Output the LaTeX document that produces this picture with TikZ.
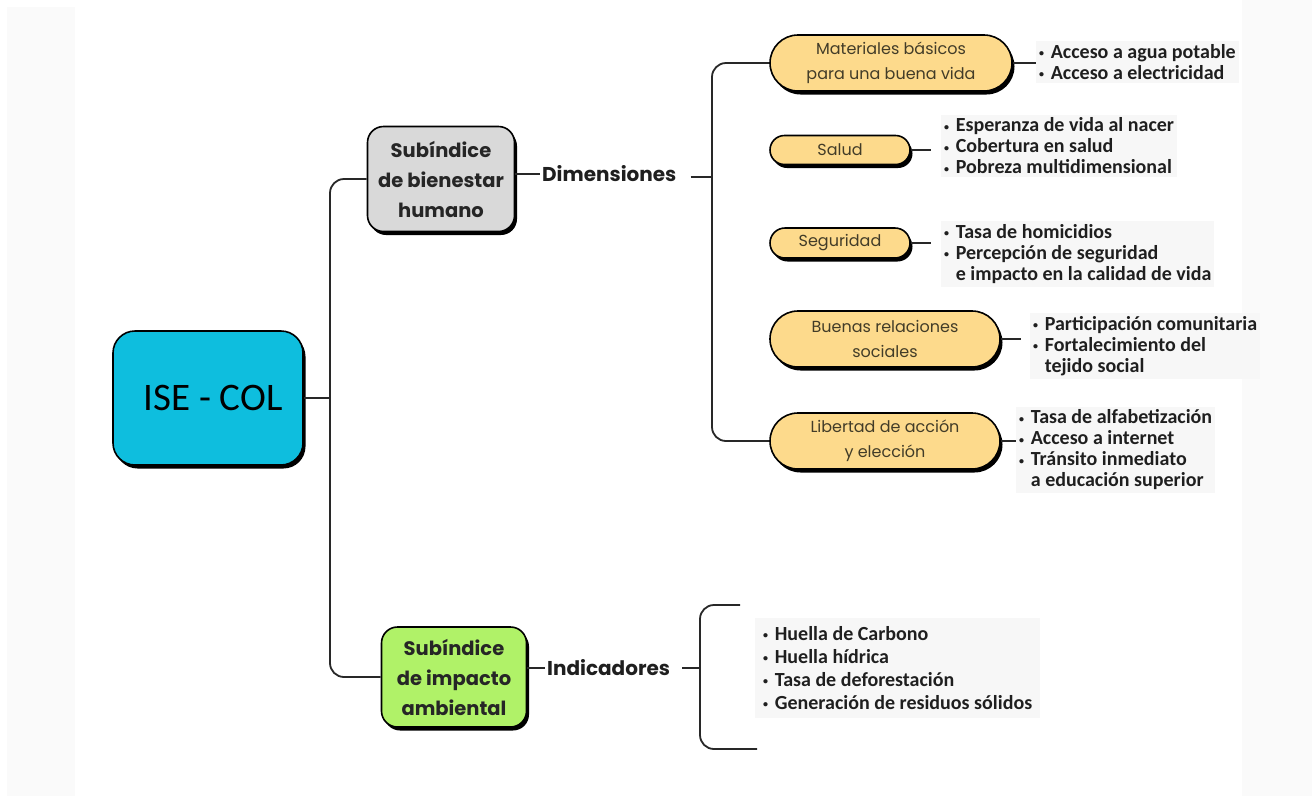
\documentclass[tikz,border=0pt]{standalone}
\usepackage{fontspec}
\setmainfont{Carlito}
\newfontfamily\popfont{Poppins}
\usetikzlibrary{shapes.misc,shadows}
\definecolor{cyanbox}{RGB}{14,190,222}
\definecolor{graybox}{RGB}{217,217,217}
\definecolor{orangebox}{RGB}{253,218,140}
\definecolor{greenbox}{RGB}{176,242,104}
\definecolor{linecol}{RGB}{40,40,40}
\definecolor{boxtext}{RGB}{66,60,40}
\definecolor{faint}{RGB}{247,247,247}
\definecolor{stripcol}{RGB}{250,250,250}
\newcommand{\bul}{\raisebox{0.2ex}{\scalebox{0.5}{•}}\,\,}
\tikzset{
  shadowed/.style={draw=black, line width=1.6pt, drop shadow={shadow xshift=2.5pt, shadow yshift=-3.5pt, fill=black, opacity=1}},
  mainbox/.style={shadowed, fill=cyanbox, rounded corners=22pt, minimum width=190pt, minimum height=134pt, inner sep=0pt, font=\fontsize{39}{44}\selectfont},
  subbox/.style={shadowed, rounded corners=16pt, inner sep=0pt, align=center, font=\popfont\bfseries\fontsize{19.5}{30}\selectfont, text=black!85},
  dimbox/.style={shadowed, fill=orangebox, rounded rectangle, inner sep=0pt, align=center, text=boxtext, font=\popfont\fontsize{16}{25}\selectfont},
  blist/.style={fill=faint, align=left, anchor=west, inner sep=3pt, text=black!88, font=\bfseries\fontsize{20}{21}\selectfont},
  heading/.style={inner sep=2pt, font=\popfont\bfseries\fontsize{20}{22}\selectfont, text=black!88},
  conn/.style={draw=linecol, line width=1.8pt, rounded corners=14pt}
}
\begin{document}
\begin{tikzpicture}[x=1pt,y=-1pt]
\useasboundingbox (0,0) rectangle (1312,796);
\fill[stripcol] (7,7) rectangle (75,796);
\fill[stripcol] (1242,0) rectangle (1312,796);

% main node
\node[mainbox] (ise) at (208,398) {\hspace*{10pt}ISE - COL};

% sub-indices
\node[subbox, fill=graybox, minimum width=147pt, minimum height=105pt] (bien) at (441,179) {Subíndice\\de bienestar\\humano};
\node[subbox, fill=greenbox, minimum width=145pt, minimum height=100pt] (amb) at (454,677) {Subíndice\\de impacto\\ambiental};

\coordinate (trunk) at (330,398);
\draw[conn] (ise.east) -- (trunk);
\draw[conn] (bien.west) -| (trunk) |- (amb.west);

% headings
\node[heading, anchor=west] (dim) at (540,174) {Dimensiones};
\node[heading, anchor=west] (ind) at (545,668) {Indicadores};
\draw[conn] (bien.east |- dim.west) -- (dim.west);
\draw[conn] (amb.east |- ind.west) -- (ind.west);

% dimension boxes
\node[dimbox, minimum width=242pt, minimum height=56pt] (mat) at (891,63) {Materiales básicos\\para una buena vida};
\node[dimbox, minimum width=140pt, minimum height=29pt] (sal) at (840,150) {Salud};
\node[dimbox, minimum width=140pt, minimum height=30pt] (seg) at (840,243) {Seguridad};
\node[dimbox, minimum width=230pt, minimum height=56pt] (bue) at (885,339) {Buenas relaciones\\sociales};
\node[dimbox, minimum width=230pt, minimum height=56pt] (lib) at (885,441) {Libertad de acción\\y elección};

\coordinate (dtrunk) at (712,177);
\draw[conn] ([xshift=12pt]dim.east |- dtrunk) -- (dtrunk);
\draw[conn] (mat.west) -| (dtrunk) |- (lib.west);

% bullet lists
\node[blist] (matl) at (1036,62) {\bul Acceso a agua potable\\\bul Acceso a electricidad};
\node[blist] (sall) at (941,146) {\bul Esperanza de vida al nacer\\\bul Cobertura en salud\\\bul Pobreza multidimensional};
\node[blist] (segl) at (941,254) {\bul Tasa de homicidios\\\bul Percepción de seguridad\\\phantom{\bul}e impacto en la calidad de vida};
\node[blist] (bull) at (1030,346) {\bul Participación comunitaria\\\bul Fortalecimiento del\\\phantom{\bul}tejido social};
\node[blist] (libl) at (1016,450) {\bul Tasa de alfabetización\\\bul Acceso a internet\\\bul Tránsito inmediato\\\phantom{\bul}a educación superior};

\draw[conn] (mat.east) -- (mat.east -| matl.west);
\draw[conn] (sal.east) -- ++(20,0);
\draw[conn] (seg.east) -- ++(20,0);
\draw[conn] (bue.east) -- ++(20,0);
\draw[conn] (lib.east) -- ++(15,0);

% indicators
\coordinate (itop) at (740,605);
\coordinate (ibot) at (757,749);
\coordinate (ibr) at (700,668);
\draw[conn] ([xshift=10pt]ind.east) -- (ibr);
\draw[conn] (itop) -| (ibr) |- (ibot);
\node[blist, minimum height=100pt, minimum width=285pt, font=\bfseries\fontsize{20}{23}\selectfont] (indl) at (755,668) {\bul Huella de Carbono\\\bul Huella hídrica\\\bul Tasa de deforestación\\\bul Generación de residuos sólidos};
\end{tikzpicture}
\end{document}
